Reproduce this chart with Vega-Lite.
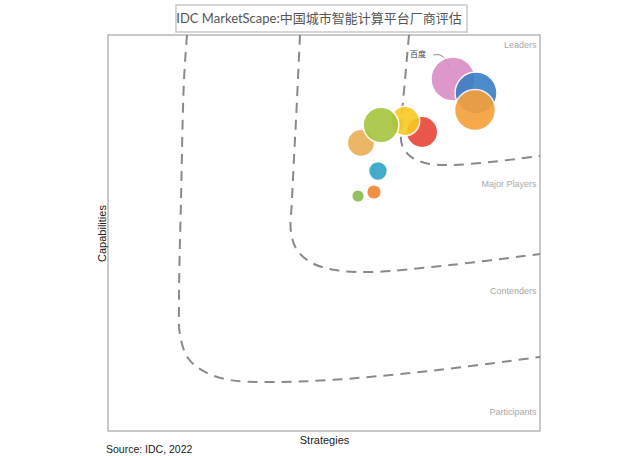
{
  "$schema": "https://vega.github.io/schema/vega-lite/v6.json",
  "autosize": "none",
  "width": 432,
  "height": 396,
  "padding": {"left": 108, "top": 35, "right": 100, "bottom": 25},
  "background": "white",
  "config": {
    "view": {"stroke": "#b8b8b8", "strokeWidth": 1.5},
    "font": "Liberation Sans"
  },
  "datasets": {
    "curves": [
      {"curve": "A", "seq": 1, "x": 18.29, "y": 100},
      {"curve": "A", "seq": 2, "x": 17.59, "y": 88.64},
      {"curve": "A", "seq": 3, "x": 16.9, "y": 58.33},
      {"curve": "A", "seq": 4, "x": 16.44, "y": 33.08},
      {"curve": "A", "seq": 5, "x": 16.67, "y": 24.24},
      {"curve": "A", "seq": 6, "x": 18.52, "y": 18.43},
      {"curve": "A", "seq": 7, "x": 22.45, "y": 14.9},
      {"curve": "A", "seq": 8, "x": 28.24, "y": 12.88},
      {"curve": "A", "seq": 9, "x": 37.5, "y": 12.37},
      {"curve": "A", "seq": 10, "x": 51.39, "y": 12.88},
      {"curve": "A", "seq": 11, "x": 72.22, "y": 14.9},
      {"curve": "A", "seq": 12, "x": 100, "y": 18.69},
      {"curve": "B", "seq": 1, "x": 44.44, "y": 100},
      {"curve": "B", "seq": 2, "x": 43.75, "y": 83.59},
      {"curve": "B", "seq": 3, "x": 42.59, "y": 58.33},
      {"curve": "B", "seq": 4, "x": 42.36, "y": 50.25},
      {"curve": "B", "seq": 5, "x": 43.75, "y": 45.71},
      {"curve": "B", "seq": 6, "x": 47.22, "y": 42.42},
      {"curve": "B", "seq": 7, "x": 52.55, "y": 40.66},
      {"curve": "B", "seq": 8, "x": 60.65, "y": 40.15},
      {"curve": "B", "seq": 9, "x": 79.17, "y": 41.92},
      {"curve": "B", "seq": 10, "x": 100, "y": 44.7},
      {"curve": "C", "seq": 1, "x": 69.68, "y": 100},
      {"curve": "C", "seq": 2, "x": 68.75, "y": 88.64},
      {"curve": "C", "seq": 3, "x": 67.82, "y": 76.01},
      {"curve": "C", "seq": 4, "x": 68.06, "y": 72.22},
      {"curve": "C", "seq": 5, "x": 69.91, "y": 69.44},
      {"curve": "C", "seq": 6, "x": 73.38, "y": 67.68},
      {"curve": "C", "seq": 7, "x": 79.17, "y": 67.17},
      {"curve": "C", "seq": 8, "x": 88.43, "y": 67.93},
      {"curve": "C", "seq": 9, "x": 100, "y": 69.44}
    ],
    "leader": [
      {"seq": 1, "x": 75.23, "y": 94.95},
      {"seq": 2, "x": 76.85, "y": 94.95},
      {"seq": 3, "x": 78.24, "y": 93.69},
      {"seq": 4, "x": 79.17, "y": 91.16}
    ],
    "vendors": [
      {"vendor": "百度", "x": 79.86, "y": 88.9, "share": 0.441},
      {"vendor": "V2", "x": 85.19, "y": 85.35, "share": 0.4},
      {"vendor": "V3", "x": 84.95, "y": 81.06, "share": 0.38},
      {"vendor": "V4", "x": 72.69, "y": 75.51, "share": 0.225},
      {"vendor": "V5", "x": 68.75, "y": 78.28, "share": 0.196},
      {"vendor": "V6", "x": 58.56, "y": 72.73, "share": 0.169},
      {"vendor": "V7", "x": 63.19, "y": 77.27, "share": 0.289},
      {"vendor": "V8", "x": 62.5, "y": 65.66, "share": 0.081},
      {"vendor": "V9", "x": 61.57, "y": 60.35, "share": 0.049},
      {"vendor": "V10", "x": 57.87, "y": 59.34, "share": 0.036}
    ],
    "zones": [
      {"zone": "Leaders", "x": 99.2, "y": 97.5},
      {"zone": "Major Players", "x": 99.2, "y": 62.4},
      {"zone": "Contenders", "x": 99.2, "y": 35.35},
      {"zone": "Participants", "x": 99.2, "y": 4.8}
    ]
  },
  "layer": [
    {
      "data": {"values": [{"box": "title"}]},
      "mark": {"type": "rect", "fill": "#ffffff", "stroke": "#c8c8c8", "strokeWidth": 1.5, "clip": false},
      "encoding": {
        "x": {"datum": 15.74, "type": "quantitative", "scale": {"domain": [0, 100]},
          "axis": {"title": "Strategies", "labels": false, "ticks": false, "domain": false, "grid": false, "titlePadding": 3, "titleFontSize": 11, "titleFontWeight": "normal", "titleColor": "#222", "titleFont": "Liberation Sans"}},
        "x2": {"datum": 83.1},
        "y": {"datum": 100.76, "type": "quantitative", "scale": {"domain": [0, 100]},
          "axis": {"title": "Capabilities", "labels": false, "ticks": false, "domain": false, "grid": false, "titlePadding": 1, "titleFontSize": 11, "titleFontWeight": "normal", "titleColor": "#222", "titleFont": "Liberation Sans"}},
        "y2": {"datum": 107.58}
      }
    },
    {
      "data": {"values": [{"label": "IDC MarketScape:中国城市智能计算平台厂商评估", "x": 48.84, "y": 104.0}]},
      "mark": {"type": "text", "align": "center", "baseline": "middle", "fontSize": 13, "color": "#555555", "font": "Lato, Noto Sans CJK SC", "clip": false},
      "encoding": {
        "x": {"field": "x", "type": "quantitative"},
        "y": {"field": "y", "type": "quantitative"},
        "text": {"field": "label"}
      }
    },
    {
      "data": {"name": "curves"},
      "mark": {"type": "line", "interpolate": "catmull-rom", "strokeDash": [10, 7], "strokeWidth": 2, "color": "#8a8a8a"},
      "encoding": {
        "x": {"field": "x", "type": "quantitative"},
        "y": {"field": "y", "type": "quantitative"},
        "detail": {"field": "curve"},
        "order": {"field": "seq"}
      }
    },
    {
      "data": {"name": "leader"},
      "mark": {"type": "line", "interpolate": "catmull-rom", "strokeWidth": 1, "color": "#888888"},
      "encoding": {
        "x": {"field": "x", "type": "quantitative"},
        "y": {"field": "y", "type": "quantitative"},
        "order": {"field": "seq"}
      }
    },
    {
      "data": {"name": "vendors"},
      "mark": {"type": "circle", "opacity": 0.9, "stroke": "white", "strokeWidth": 1.5},
      "encoding": {
        "x": {"field": "x", "type": "quantitative"},
        "y": {"field": "y", "type": "quantitative"},
        "size": {"field": "share", "type": "quantitative", "scale": {"type": "linear", "domain": [0, 1], "range": [0, 4400], "zero": true}, "legend": null},
        "color": {"field": "vendor", "type": "nominal", "legend": null,
          "scale": {"domain": ["百度", "V2", "V3", "V4", "V5", "V6", "V7", "V8", "V9", "V10"],
            "range": ["#d98cc6", "#3b7fc6", "#f6a038", "#e8473a", "#f8c921", "#eab054", "#a6c53f", "#2fa3c6", "#f08632", "#88bb4a"]}}
      }
    },
    {
      "data": {"name": "zones"},
      "mark": {"type": "text", "align": "right", "baseline": "middle", "fontSize": 9, "color": "#a8a8a8", "font": "Liberation Sans"},
      "encoding": {
        "x": {"field": "x", "type": "quantitative"},
        "y": {"field": "y", "type": "quantitative"},
        "text": {"field": "zone"}
      }
    },
    {
      "data": {"values": [{"label": "百度", "x": 71.76, "y": 94.95}]},
      "mark": {"type": "text", "align": "center", "baseline": "middle", "fontSize": 8, "color": "#444", "font": "Noto Sans CJK SC"},
      "encoding": {
        "x": {"field": "x", "type": "quantitative"},
        "y": {"field": "y", "type": "quantitative"},
        "text": {"field": "label"}
      }
    },
    {
      "data": {"values": [{"label": "Source: IDC, 2022", "x": -0.46, "y": -4.7}]},
      "mark": {"type": "text", "align": "left", "baseline": "middle", "fontSize": 10.5, "color": "#222", "font": "Liberation Sans", "clip": false},
      "encoding": {
        "x": {"field": "x", "type": "quantitative"},
        "y": {"field": "y", "type": "quantitative"},
        "text": {"field": "label"}
      }
    }
  ]
}
